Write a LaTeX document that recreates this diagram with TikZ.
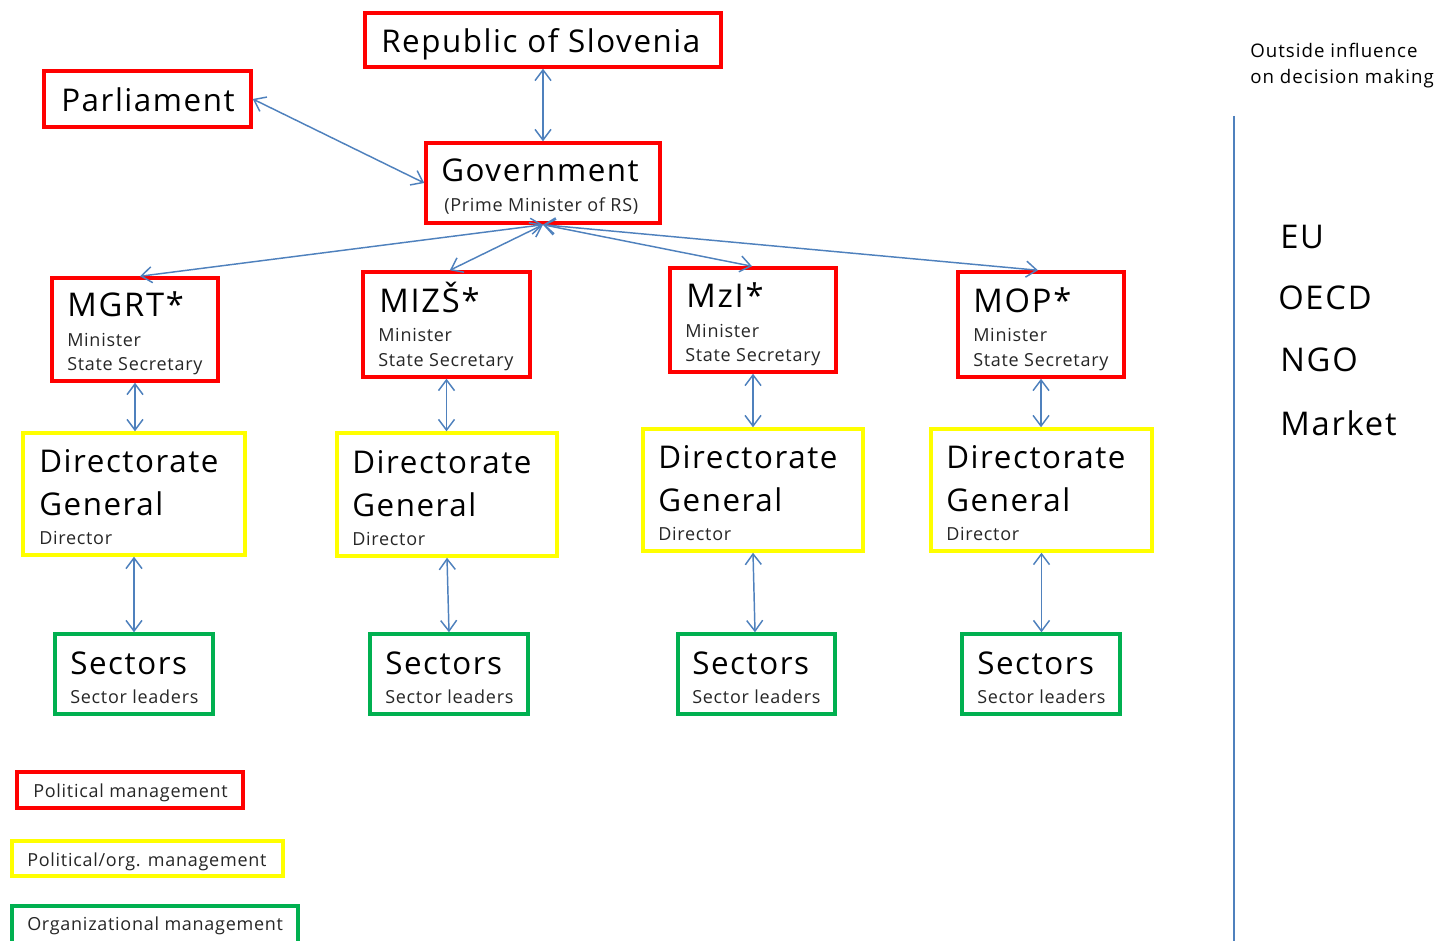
\documentclass[tikz,border=0pt]{standalone}
\usepackage{fontspec}
\setmainfont{Open Sans}
\usetikzlibrary{arrows.meta,fit}
\definecolor{linkblue}{RGB}{79,129,189}
\definecolor{polred}{RGB}{255,0,0}
\definecolor{polyellow}{RGB}{255,255,0}
\definecolor{orggreen}{RGB}{0,176,80}
\tikzset{
  box/.style={draw, line width=2.6pt, inner sep=0pt, fill=none},
  redbox/.style={box, draw=polred},
  yellowbox/.style={box, draw=polyellow},
  greenbox/.style={box, draw=orggreen},
  lbl/.style={anchor=base west, inner sep=0pt, text=black},
  huge/.style={lbl, font=\fontsize{24.5}{28}\selectfont\addfontfeature{LetterSpace=5.5}},
  big/.style={lbl, font=\fontsize{23.5}{28}\selectfont\addfontfeature{LetterSpace=5}},
  small/.style={lbl, font=\fontsize{13.5}{16}\selectfont\addfontfeature{LetterSpace=4}, text=black!85},
  side/.style={lbl, font=\fontsize{14}{17}\selectfont\addfontfeature{LetterSpace=5.5}},
  link/.style={draw=linkblue, line width=1.1pt,
    {Straight Barb[length=8pt,width=12pt]}-{Straight Barb[length=8pt,width=12pt]}}
}
\begin{document}
\begin{tikzpicture}[x=0.75pt,y=-0.75pt]
\useasboundingbox (0,0) rectangle (1437,941);

% top level
\node[redbox, fit={(365,13) (721,67)}] (rep) {};
\node[big] (rep-t) at (381,53) {Republic of Slovenia};

\node[redbox, fit={(44,71) (251,127)}] (par) {};
\node[big] (par-t) at (61,112) {Parliament};

\node[redbox, fit={(426,143) (660,223)}] (gov) {};
\node[big] (gov-t) at (441,182) {Government};
\node[small] (gov-s) at (444,212) {(Prime Minister of RS)};

% ministries
\node[redbox, fit={(52,278) (218,381)}] (mgrt) {};
\node[huge] (mgrt-t) at (67,316) {MGRT*};
\node[small] (mgrt-a) at (67,346) {Minister};
\node[small] (mgrt-b) at (67,370) {State Secretary};

\node[redbox, fit={(363,272) (530,377)}] (mizs) {};
\node[huge] (mizs-t) at (379,312) {MIZŠ*};
\node[small] (mizs-a) at (378,341) {Minister};
\node[small] (mizs-b) at (378,366) {State Secretary};

\node[redbox, fit={(670,268) (836,372)}] (mzi) {};
\node[huge] (mzi-t) at (686,307) {MzI*};
\node[small] (mzi-a) at (685,337) {Minister};
\node[small] (mzi-b) at (685,361) {State Secretary};

\node[redbox, fit={(958,272) (1124,377)}] (mop) {};
\node[huge] (mop-t) at (973,312) {MOP*};
\node[small] (mop-a) at (973,341) {Minister};
\node[small] (mop-b) at (973,366) {State Secretary};

% directorates
\node[yellowbox, fit={(23,433) (245,555)}] (dg1) {};
\node[big] (dg1-t) at (39,472) {Directorate};
\node[big] (dg1-u) at (39,515) {General};
\node[small] (dg1-d) at (39,544) {Director};

\node[yellowbox, fit={(337,433) (557,556)}] (dg2) {};
\node[big] (dg2-t) at (352,473) {Directorate};
\node[big] (dg2-u) at (352,516) {General};
\node[small] (dg2-d) at (352,545) {Director};

\node[yellowbox, fit={(643,429) (863,551)}] (dg3) {};
\node[big] (dg3-t) at (658,468) {Directorate};
\node[big] (dg3-u) at (658,511) {General};
\node[small] (dg3-d) at (658,540) {Director};

\node[yellowbox, fit={(931,429) (1152,551)}] (dg4) {};
\node[big] (dg4-t) at (946,468) {Directorate};
\node[big] (dg4-u) at (946,511) {General};
\node[small] (dg4-d) at (946,540) {Director};

% sectors
\node[greenbox, fit={(55,634) (213,714)}] (sec1) {};
\node[big] (sec1-t) at (70,674) {Sectors};
\node[small] (sec1-s) at (70,703) {Sector leaders};

\node[greenbox, fit={(370,634) (528,714)}] (sec2) {};
\node[big] (sec2-t) at (385,674) {Sectors};
\node[small] (sec2-s) at (385,703) {Sector leaders};

\node[greenbox, fit={(678,634) (835,714)}] (sec3) {};
\node[big] (sec3-t) at (692,674) {Sectors};
\node[small] (sec3-s) at (692,703) {Sector leaders};

\node[greenbox, fit={(962,634) (1120,714)}] (sec4) {};
\node[big] (sec4-t) at (977,674) {Sectors};
\node[small] (sec4-s) at (977,703) {Sector leaders};

% connectors
\draw[link] (rep.south) -- (gov.north);
\draw[link] (par.east) -- (gov.west);
\draw[link] (gov.south) -- ([xshift=3.75pt]mgrt.north);
\draw[link] (gov.south) -- ([xshift=2.5pt]mizs.north);
\draw[link] (gov.south) -- ([xshift=-0.75pt]mzi.north);
\draw[link] (gov.south) -- ([xshift=-2.25pt]mop.north);

\draw[link] (mgrt.south) -- (mgrt.south |- dg1.north);
\draw[link] (mizs.south) -- (mizs.south |- dg2.north);
\draw[link] (mzi.south) -- (mzi.south |- dg3.north);
\draw[link] (mop.south) -- (mop.south |- dg4.north);

\draw[link] (dg1.south) -- (dg1.south |- sec1.north);
\draw[link] (dg2.south) -- ([xshift=1.5pt]dg2.south |- sec2.north);
\draw[link] (dg3.south) -- ([xshift=1.5pt]dg3.south |- sec3.north);
\draw[link] (dg4.south) -- (dg4.south |- sec4.north);

% legend
\node[redbox, fit={(17,772) (243,808)}] (leg1) {};
\node[small] (leg1-t) at (33,797) {Political management};
\node[yellowbox, fit={(12,841) (283,876)}] (leg2) {};
\node[small] (leg2-t) at (27,866) {Political/org. management};
\node[greenbox, fit={(12,906) (298,948)}] (leg3) {};
\node[small] (leg3-t) at (27,930) {Organizational management};

% outside influence
\draw[linkblue, line width=1.3pt] (1234,116) -- (1234,945);
\node[side] (out1) at (1250,58) {Outside influence};
\node[side] (out2) at (1250,84) {on decision making};
\node[huge] (eu) at (1280,248) {EU};
\node[huge] (oecd) at (1278,309) {OECD};
\node[huge] (ngo) at (1280,371) {NGO};
\node[huge] (mkt) at (1280,435) {Market};
\end{tikzpicture}
\end{document}
